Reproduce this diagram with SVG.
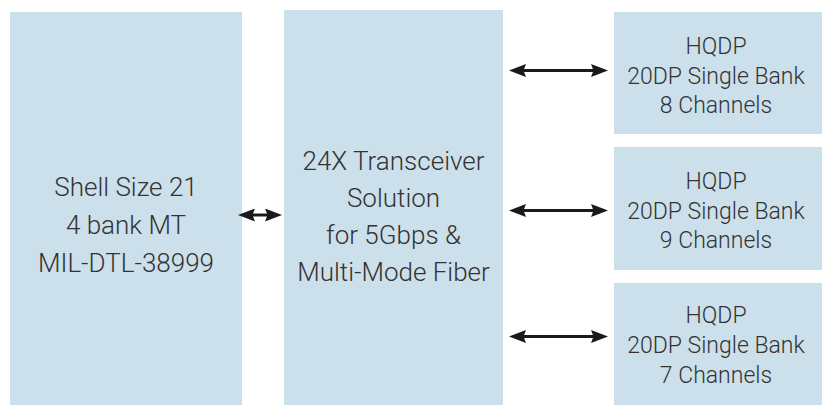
<svg xmlns="http://www.w3.org/2000/svg" width="825" height="405" viewBox="0 0 825 405">
  <defs>
    <style>
      .box { fill: #cce0eb; }
      .lbl { font-family: Roboto, "Liberation Sans", Arial, sans-serif; font-weight: 300; fill: #333333; text-anchor: middle; }
      .big { font-size: 26px; }
      .sm { font-size: 23px; }
      .conn { stroke: #1a1a1a; stroke-width: 3; fill: none; }
    </style>
    <marker id="ah" viewBox="0 0 17 13" refX="7" refY="6.5" markerWidth="17" markerHeight="13" markerUnits="userSpaceOnUse" orient="auto-start-reverse">
      <path d="M0,0 L17,6.5 L0,13 L2.5,6.5 z" fill="#1a1a1a"/>
    </marker>
  </defs>
  <rect width="825" height="405" fill="#ffffff"/>

  <g id="shell">
    <rect class="box" x="10" y="12" width="232" height="393"/>
    <text class="lbl big" x="126" y="196">Shell Size 21</text>
    <text class="lbl big" x="126" y="234">4 bank MT</text>
    <text class="lbl big" x="126" y="272">MIL-DTL-38999</text>
  </g>

  <g id="transceiver">
    <rect class="box" x="284" y="10" width="219" height="395"/>
    <text class="lbl big" x="393.5" y="170">24X Transceiver</text>
    <text class="lbl big" x="393.5" y="207">Solution</text>
    <text class="lbl big" x="393.5" y="244">for 5Gbps &amp;</text>
    <text class="lbl big" x="393.5" y="281">Multi-Mode Fiber</text>
  </g>

  <g id="hqdp8">
    <rect class="box" x="614" y="12" width="208" height="122"/>
    <text class="lbl sm" x="716" y="54">HQDP</text>
    <text class="lbl sm" x="716" y="83.5">20DP Single Bank</text>
    <text class="lbl sm" x="716" y="113">8 Channels</text>
  </g>

  <g id="hqdp9">
    <rect class="box" x="614" y="147" width="208" height="123"/>
    <text class="lbl sm" x="716" y="189">HQDP</text>
    <text class="lbl sm" x="716" y="218.5">20DP Single Bank</text>
    <text class="lbl sm" x="716" y="248">9 Channels</text>
  </g>

  <g id="hqdp7">
    <rect class="box" x="614" y="283" width="208" height="122"/>
    <text class="lbl sm" x="716" y="323">HQDP</text>
    <text class="lbl sm" x="716" y="353">20DP Single Bank</text>
    <text class="lbl sm" x="716" y="383">7 Channels</text>
  </g>

  <g id="connectors">
    <line class="conn" x1="248" y1="215" x2="272" y2="215" marker-start="url(#ah)" marker-end="url(#ah)"/>
    <line class="conn" x1="519" y1="70.5" x2="598" y2="70.5" marker-start="url(#ah)" marker-end="url(#ah)"/>
    <line class="conn" x1="519" y1="210.5" x2="598" y2="210.5" marker-start="url(#ah)" marker-end="url(#ah)"/>
    <line class="conn" x1="519" y1="336.5" x2="598" y2="336.5" marker-start="url(#ah)" marker-end="url(#ah)"/>
  </g>
</svg>
